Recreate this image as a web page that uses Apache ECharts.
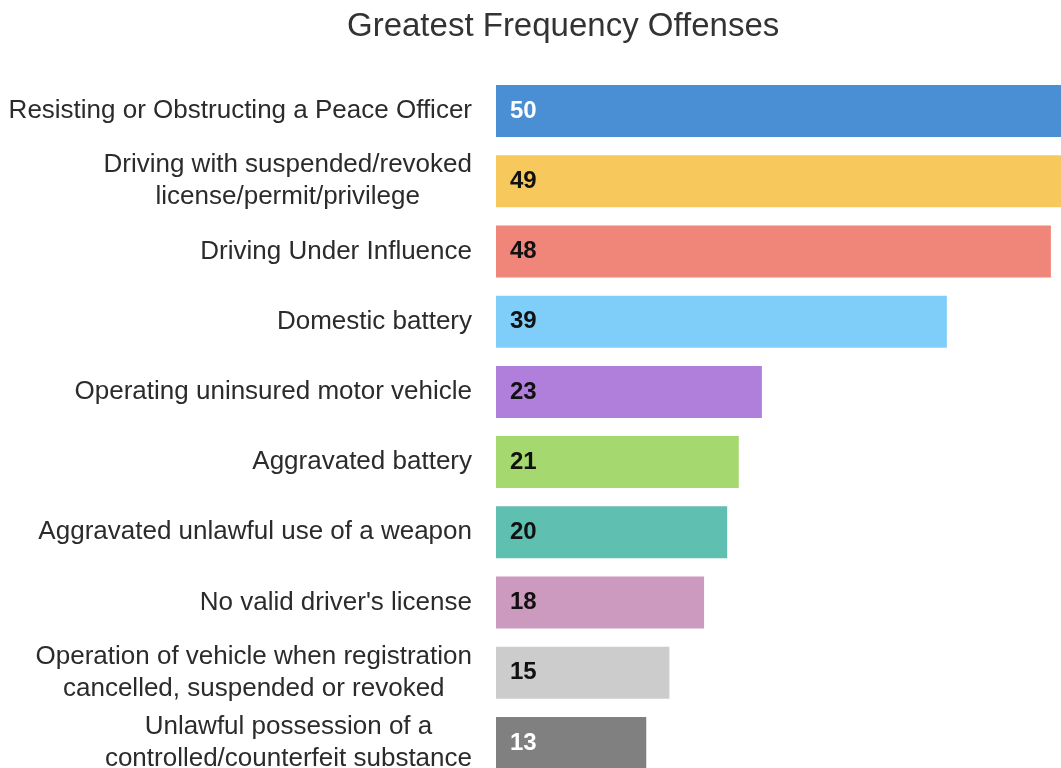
<!DOCTYPE html>
<html>
<head>
<meta charset="utf-8">
<script src="https://cdn.jsdelivr.net/npm/echarts@6/dist/echarts.min.js"></script>
<style>
html,body{margin:0;padding:0;background:#fff;}
#chart{width:1061px;height:768px;}
</style>
</head>
<body>
<div id="chart"></div>
<script>
const categories = [
  'Resisting or Obstructing a Peace Officer',
  'Driving with suspended/revoked\nlicense/permit/privilege',
  'Driving Under Influence',
  'Domestic battery',
  'Operating uninsured motor vehicle',
  'Aggravated battery',
  'Aggravated unlawful use of a weapon',
  "No valid driver's license",
  'Operation of vehicle when registration\ncancelled, suspended or revoked',
  'Unlawful possession of a\ncontrolled/counterfeit substance'
];
const values = [50, 49, 48, 39, 23, 21, 20, 18, 15, 13];

const barColors = ['#4a8fd4', '#f7c95c', '#f0857a', '#7fcef9', '#b07fdb', '#a5d86e', '#5fbfb0', '#cc99bf', '#cccccc', '#808080'];
const labelColors = ['#ffffff', '#111111', '#111111', '#111111', '#111111', '#111111', '#111111', '#111111', '#111111', '#ffffff'];

const FONT = 'Liberation Sans, Arial, sans-serif';

const chart = echarts.init(document.getElementById('chart'));
chart.setOption({
  animation: false,
  backgroundColor: '#ffffff',
  title: {
    text: 'Greatest Frequency Offenses',
    left: 347,
    top: 10,
    padding: 0,
    textStyle: { fontFamily: FONT, fontSize: 33, fontWeight: 'normal', color: '#333333' }
  },
  grid: {
    left: 496,
    top: 76,
    width: 578,
    height: 702,
    containLabel: false,
    outerBoundsMode: 'none'
  },
  xAxis: {
    type: 'value',
    min: 0,
    max: 50,
    show: false
  },
  yAxis: {
    type: 'category',
    inverse: true,
    data: categories,
    axisLine: { show: false },
    axisTick: { show: false },
    axisLabel: {
      margin: 24,
      fontFamily: FONT,
      fontSize: 26,
      lineHeight: 32,
      color: '#2b2b2b',
      align: 'right',
      formatter: function (v) {
        return v.split('\n').map(function (l) { return '{c|' + l + '}'; }).join('\n');
      },
      rich: {
        c: {
          align: 'center',
          fontFamily: FONT,
          fontSize: 26,
          lineHeight: 32,
          color: '#2b2b2b'
        }
      }
    }
  },
  series: [{
    type: 'bar',
    barWidth: 52,
    clip: true,
    data: values.map((v, i) => ({
      value: v,
      itemStyle: { color: barColors[i] },
      label: { color: labelColors[i] }
    })),
    label: {
      show: true,
      position: 'insideLeft',
      distance: 14,
      fontFamily: FONT,
      fontSize: 24,
      fontWeight: 'bold'
    }
  }]
});
</script>
</body>
</html>
